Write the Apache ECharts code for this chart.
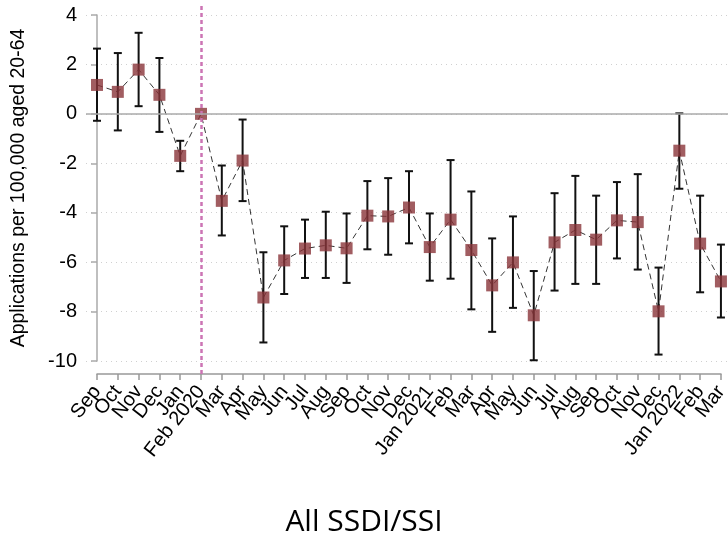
<!DOCTYPE html>
<html>
<head>
<meta charset="utf-8">
<script src="https://cdn.jsdelivr.net/npm/echarts@6/dist/echarts.min.js"></script>
<style>
  html, body { margin: 0; padding: 0; background: #fff; }
  #main { width: 728px; height: 541px; }
</style>
</head>
<body>
<div id="main"></div>
<script>
// 月份（2019年9月 - 2022年3月）
var months = ['Sep','Oct','Nov','Dec','Jan','Feb 2020','Mar','Apr','May','Jun','Jul','Aug',
  'Sep','Oct','Nov','Dec','Jan 2021','Feb','Mar','Apr','May','Jun','Jul','Aug',
  'Sep','Oct','Nov','Dec','Jan 2022','Feb','Mar'];
// 估计值
var est = [1.17,0.89,1.79,0.77,-1.70,0,-3.52,-1.89,-7.43,-5.93,-5.45,-5.32,-5.44,-4.12,-4.15,-3.79,
  -5.39,-4.28,-5.51,-6.94,-6.01,-8.15,-5.20,-4.70,-5.09,-4.31,-4.38,-7.99,-1.49,-5.25,-6.78];
// 置信区间上下限
var upper = [2.64,2.46,3.28,2.26,-1.09,null,-2.09,-0.23,-5.60,-4.55,-4.28,-3.96,-4.03,-2.72,-2.60,-2.32,
  -4.03,-1.87,-3.14,-5.04,-4.15,-6.36,-3.21,-2.51,-3.31,-2.76,-2.44,-6.22,0.02,-3.31,-5.29];
var lower = [-0.28,-0.67,0.31,-0.73,-2.32,null,-4.92,-3.53,-9.25,-7.29,-6.64,-6.64,-6.84,-5.48,-5.70,-5.24,
  -6.75,-6.67,-7.91,-8.82,-7.85,-9.97,-7.15,-6.88,-6.88,-5.85,-6.30,-9.74,-3.03,-7.22,-8.24];
var yTicks = [-10,-8,-6,-4,-2,0,2,4];
var eventMonth = 'Feb 2020';

var font = 'Liberation Sans';
var pts = est.map(function(v, i){ return [i, v]; });
var bars = [];
for (var i = 0; i < est.length; i++) {
    if (upper[i] != null) bars.push([i, lower[i], upper[i]]);
}

var chart = echarts.init(document.getElementById('main'));
var option = {
    animation: false,
    title: {
        text: 'All SSDI/SSI',
        left: 'center',
        top: 502,
        textStyle: { fontFamily: 'Open Sans', fontSize: 30, fontWeight: 'normal', color: '#000' }
    },
    grid: [
        { left: 86, right: 0, top: 15, height: 346, outerBoundsMode: 'none' },
        { left: 97, right: 7, top: 5, height: 369, outerBoundsMode: 'none' }
    ],
    xAxis: [
        { gridIndex: 0, type: 'value', min: -0.53, max: 30.34, show: false },
        {
            gridIndex: 1, type: 'category', data: months, boundaryGap: false, position: 'bottom',
            axisLine: { show: true, onZero: false, lineStyle: { color: '#999', width: 1.5 } },
            axisTick: { show: true, length: 6, lineStyle: { color: '#999', width: 1.5 } },
            axisLabel: { interval: 0, rotate: 52, fontFamily: font, fontSize: 20, color: '#000', margin: 14 },
            splitLine: { show: false }
        }
    ],
    yAxis: [
        {
            gridIndex: 0, type: 'value', min: yTicks[0], max: yTicks[yTicks.length - 1], interval: 2,
            name: 'Applications per 100,000 aged 20-64', nameLocation: 'middle', nameGap: 57,
            nameTextStyle: { fontFamily: font, fontSize: 19.5, color: '#000' },
            axisLine: { show: true, lineStyle: { color: '#aaa', width: 1.5 } },
            axisTick: { show: true, length: 6, lineStyle: { color: '#aaa', width: 1.5 } },
            axisLabel: { fontFamily: font, fontSize: 20, color: '#000', margin: 9 },
            splitLine: { lineStyle: { color: '#d0d0d0', type: [1, 4], width: 1 } }
        },
        {
            gridIndex: 1, type: 'value', min: 0, max: 1,
            axisLine: { show: false }, axisTick: { show: false },
            axisLabel: { show: false }, splitLine: { show: false }
        }
    ],
    series: [
        {
            // 参考线：Feb 2020
            type: 'line', xAxisIndex: 1, yAxisIndex: 1, data: [], silent: true,
            markLine: {
                symbol: 'none', silent: true, label: { show: false },
                lineStyle: { color: '#cc74b4', type: [4, 3], width: 2.5 },
                emphasis: { disabled: true },
                data: [{ xAxis: eventMonth }]
            },
            z: 1
        },
        {
            type: 'line', xAxisIndex: 0, yAxisIndex: 0, data: pts,
            symbol: 'none',
            lineStyle: { color: '#333', width: 1, type: [6, 4] },
            markLine: {
                symbol: 'none', silent: true, label: { show: false },
                lineStyle: { color: '#aaa', type: 'solid', width: 1.5 },
                emphasis: { disabled: true },
                data: [{ yAxis: 0 }]
            },
            z: 2
        },
        {
            // 误差线
            type: 'custom', xAxisIndex: 0, yAxisIndex: 0, data: bars,
            renderItem: function(params, api){
                var lo = api.coord([api.value(0), api.value(1)]);
                var hi = api.coord([api.value(0), api.value(2)]);
                var w = 4;
                var st = { stroke: '#111', lineWidth: 2 };
                return {
                    type: 'group',
                    children: [
                        { type: 'line', shape: { x1: lo[0], y1: lo[1], x2: hi[0], y2: hi[1] }, style: st },
                        { type: 'line', shape: { x1: lo[0] - w, y1: lo[1], x2: lo[0] + w, y2: lo[1] }, style: st },
                        { type: 'line', shape: { x1: hi[0] - w, y1: hi[1], x2: hi[0] + w, y2: hi[1] }, style: st }
                    ]
                };
            },
            z: 3
        },
        {
            type: 'scatter', xAxisIndex: 0, yAxisIndex: 0, data: pts,
            symbol: 'rect', symbolSize: 12,
            itemStyle: { color: '#8a3539' },
            z: 4
        }
    ]
};
chart.setOption(option);
</script>
</body>
</html>
